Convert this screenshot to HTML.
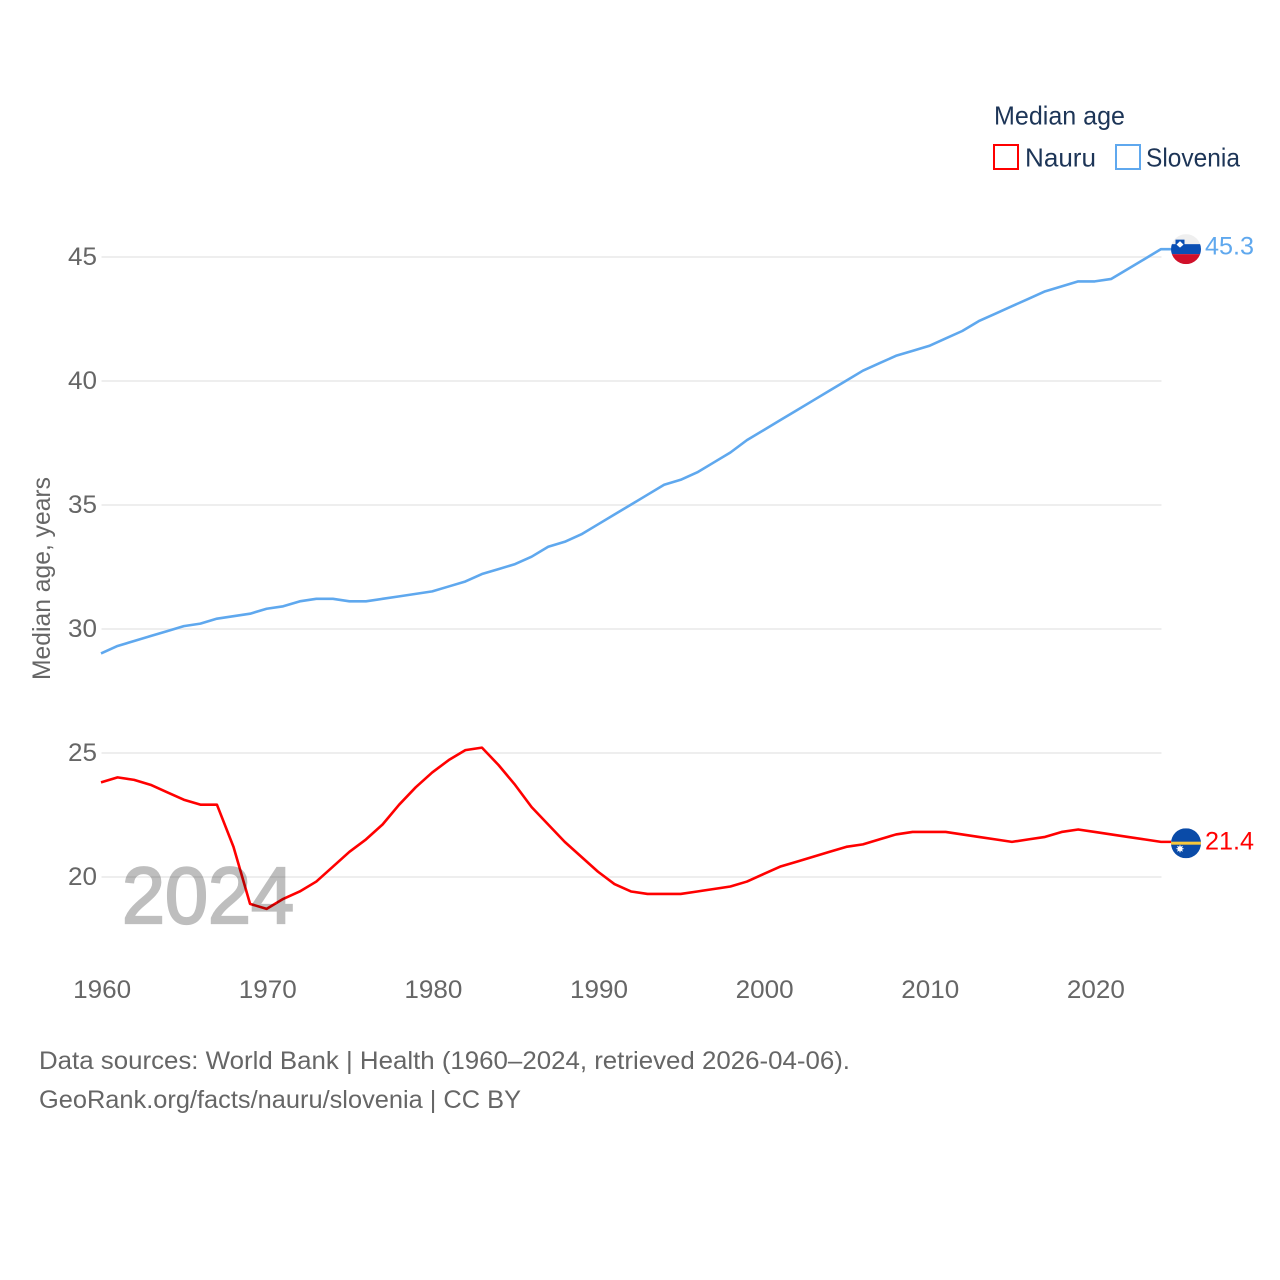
<!DOCTYPE html>
<html lang="en">
<head>
<meta charset="utf-8">
<title>Median age: Nauru and Slovenia</title>
<style>
html,body{margin:0;padding:0;background:#fff;}
svg{display:block;font-family:"Liberation Sans",sans-serif;}
</style>
</head>
<body>
<svg id="chart" xmlns="http://www.w3.org/2000/svg" width="1280" height="1280" viewBox="0 0 1280 1280">
  <defs>
    <clipPath id="clip-si"><circle cx="1186" cy="0" r="15"/></clipPath>
    <clipPath id="clip-nr"><circle cx="1186" cy="0" r="15"/></clipPath>
  </defs>
  <rect x="0" y="0" width="1280" height="1280" fill="#fff"/>
  <g id="grid"></g>
  <g id="yticks"></g>
  <g id="xticks"></g>
  <text transform="translate(50,680) rotate(-90)" font-size="25" fill="#666" textLength="203" lengthAdjust="spacingAndGlyphs">Median age, years</text>
  <g id="series"></g>
  <text x="122" y="923" font-size="80" fill="#bebebe" stroke="#bebebe" stroke-width="2.2" textLength="172" lengthAdjust="spacingAndGlyphs" style="mix-blend-mode:multiply">2024</text>
  <g id="flags"></g>

  <g>
    <text x="994" y="124.5" font-size="26" fill="#1d3557" textLength="131" lengthAdjust="spacingAndGlyphs">Median age</text>
    <g>
      <rect x="994" y="145" width="24" height="24" fill="none" stroke="#ff0000" stroke-width="2"/>
      <text x="1025" y="166.5" font-size="26" fill="#1d3557" textLength="71" lengthAdjust="spacingAndGlyphs">Nauru</text>
    </g>
    <g>
      <rect x="1116" y="145" width="24" height="24" fill="none" stroke="#5fa8ee" stroke-width="2"/>
      <text x="1146" y="166.5" font-size="26" fill="#1d3557" textLength="94" lengthAdjust="spacingAndGlyphs">Slovenia</text>
    </g>
  </g>

  <text x="39" y="1069" font-size="25" fill="#666" textLength="811" lengthAdjust="spacingAndGlyphs">Data sources: World Bank | Health (1960–2024, retrieved 2026-04-06).</text>
  <text x="39" y="1108" font-size="25" fill="#666" textLength="482" lengthAdjust="spacingAndGlyphs">GeoRank.org/facts/nauru/slovenia | CC BY</text>
</svg>
<script>
const years = [1960,1961,1962,1963,1964,1965,1966,1967,1968,1969,1970,1971,1972,1973,1974,1975,1976,1977,1978,1979,1980,1981,1982,1983,1984,1985,1986,1987,1988,1989,1990,1991,1992,1993,1994,1995,1996,1997,1998,1999,2000,2001,2002,2003,2004,2005,2006,2007,2008,2009,2010,2011,2012,2013,2014,2015,2016,2017,2018,2019,2020,2021,2022,2023,2024];
const nauruValues = [23.8,24.0,23.9,23.7,23.4,23.1,22.9,22.9,21.2,18.9,18.7,19.1,19.4,19.8,20.4,21.0,21.5,22.1,22.9,23.6,24.2,24.7,25.1,25.2,24.5,23.7,22.8,22.1,21.4,20.8,20.2,19.7,19.4,19.3,19.3,19.3,19.4,19.5,19.6,19.8,20.1,20.4,20.6,20.8,21.0,21.2,21.3,21.5,21.7,21.8,21.8,21.8,21.7,21.6,21.5,21.4,21.5,21.6,21.8,21.9,21.8,21.7,21.6,21.5,21.4];
const sloveniaValues = [29.0,29.3,29.5,29.7,29.9,30.1,30.2,30.4,30.5,30.6,30.8,30.9,31.1,31.2,31.2,31.1,31.1,31.2,31.3,31.4,31.5,31.7,31.9,32.2,32.4,32.6,32.9,33.3,33.5,33.8,34.2,34.6,35.0,35.4,35.8,36.0,36.3,36.7,37.1,37.6,38.0,38.4,38.8,39.2,39.6,40.0,40.4,40.7,41.0,41.2,41.4,41.7,42.0,42.4,42.7,43.0,43.3,43.6,43.8,44.0,44.0,44.1,44.5,44.9,45.3];
const yTickValues = [20,25,30,35,40,45];
const xTickValues = [1960,1970,1980,1990,2000,2010,2020];

const NS = 'http://www.w3.org/2000/svg';
const xScale = v => 101 + (v - 1960) * (1161 - 101) / 64;
const yScale = v => 876.6 - (v - 20) * 24.8;

function make(tag, attrs, parent) {
  const el = document.createElementNS(NS, tag);
  for (const k in attrs) el.setAttribute(k, attrs[k]);
  parent.appendChild(el);
  return el;
}

const grid = document.getElementById('grid');
const yticks = document.getElementById('yticks');
yTickValues.forEach(v => {
  const line = make('line', {x1: 101.5, x2: 1161.5, y1: yScale(v) + 0.4, y2: yScale(v) + 0.4, stroke: '#e9e9e9', 'stroke-width': 1.5}, grid);
  
  
  const t = make('text', {x: 97, y: yScale(v) + 8.4, 'text-anchor': 'end', 'font-size': 25, fill: '#666', textLength: 29, lengthAdjust: 'spacingAndGlyphs'}, yticks);
  t.textContent = v;
  
  
});

const xticks = document.getElementById('xticks');
xTickValues.forEach(v => {
  const t = make('text', {x: xScale(v) + 1.2, y: 998, 'text-anchor': 'middle', 'font-size': 25, fill: '#666', textLength: 58, lengthAdjust: 'spacingAndGlyphs'}, xticks);
  t.textContent = v;
  
  
});

const seriesGroup = document.getElementById('series');
function drawLine(values, color, name) {
  const pts = values.map((v, i) => xScale(years[i]).toFixed(2) + ',' + yScale(v).toFixed(2));
  pts.push('1171,' + yScale(values[values.length - 1]).toFixed(2));
  const p = make('polyline', {points: pts.join(' '), fill: 'none', stroke: color, 'stroke-width': 2.6, 'stroke-linejoin': 'round'}, seriesGroup);
  
  
}
drawLine(sloveniaValues, '#5fa8ee', 'line-slovenia');
drawLine(nauruValues, '#ff0000', 'line-nauru');

const flags = document.getElementById('flags');
const fmt = v => v.toFixed(1);

// Slovenia flag and end label
(function () {
  const val = sloveniaValues[sloveniaValues.length - 1];
  const cy = yScale(val);
  document.querySelector('#clip-si circle').setAttribute('cy', cy);
  const g = make('g', {'clip-path': 'url(#clip-si)'}, flags);
  
  
  make('rect', {x: 1171, y: cy - 15, width: 30, height: 30, fill: '#efefef'}, g);
  make('rect', {x: 1171, y: cy - 5, width: 30, height: 10, fill: '#0a4fb4'}, g);
  make('rect', {x: 1171, y: cy + 5, width: 30, height: 10, fill: '#d0102a'}, g);
  make('path', {d: 'M' + 1175.5 + ' ' + (cy - 9.5) + 'h9v6.5l-4.5 3.5l-4.5-3.5z', fill: '#0a4fb4'}, g);
  make('path', {d: 'M' + 1176.5 + ' ' + (cy - 4.5) + 'l3.5-3.5l3.5 3.5l-3.5 3z', fill: '#fff'}, g);
  const t = make('text', {x: 1205, y: yScale(val) + 5.4, 'font-size': 25, fill: '#5fa8ee', textLength: 49, lengthAdjust: 'spacingAndGlyphs'}, flags);
  t.textContent = fmt(val);
  
  
})();

// Nauru flag and end label
(function () {
  const val = nauruValues[nauruValues.length - 1];
  const cy = yScale(val) + 1.4;
  document.querySelector('#clip-nr circle').setAttribute('cy', cy);
  const g = make('g', {'clip-path': 'url(#clip-nr)'}, flags);
  
  
  make('rect', {x: 1171, y: cy - 15, width: 30, height: 30, fill: '#0a4ba8'}, g);
  make('rect', {x: 1171, y: cy - 1.6, width: 30, height: 3, fill: '#f6c83c'}, g);
  make('polygon', {points: [0,1,2,3,4,5,6,7,8,9,10,11,12,13,14,15].map(i => {
    const r = i % 2 ? 2.2 : 4.2;
    const a = i * Math.PI / 8;
    return (1180 + r * Math.cos(a)).toFixed(2) + ',' + (cy + 5.5 + r * Math.sin(a)).toFixed(2);
  }).join(' '), fill: '#fff'}, g);
  const t = make('text', {x: 1205, y: yScale(val) + 7.4, 'font-size': 25, fill: '#ff0000', textLength: 49, lengthAdjust: 'spacingAndGlyphs'}, flags);
  t.textContent = fmt(val);
  
  
})();
</script>
</body>
</html>
